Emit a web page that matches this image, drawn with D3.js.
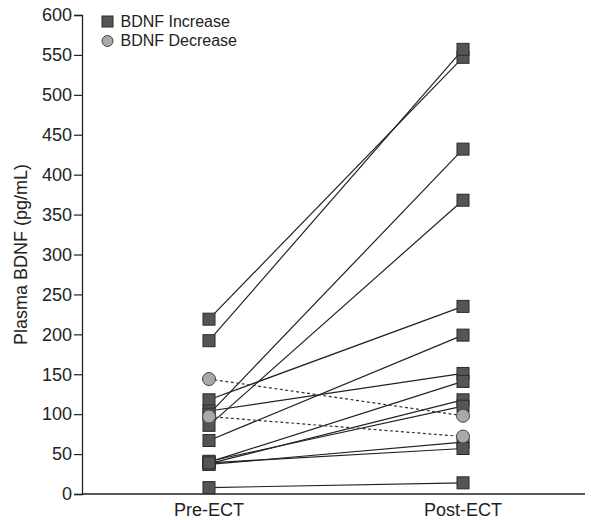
<!DOCTYPE html>
<html>
<head>
<meta charset="utf-8">
<script src="https://cdn.jsdelivr.net/npm/d3@7"></script>
<style>
body { margin: 0; background: #fff; }
text { font-family: "Liberation Sans", Arial, sans-serif; }
</style>
</head>
<body>
<script>
// time points
var phases = ["Pre-ECT", "Post-ECT"];
// subjects whose BDNF went up
var incPre  = [219, 192, 118, 104, 100, 86, 67, 40, 38, 41, 37, 39, 8];
var incPost = [547, 557, 235, 151, 432, 368, 199, 141, 118, 110, 65, 57, 14];
// subjects whose BDNF went down
var decPre  = [144, 97];
var decPost = [98, 72];
var yTicks = d3.range(0, 601, 50);

var width = 591, height = 520;
var margin = { top: 15, right: 6, bottom: 26, left: 82 };

var svg = d3.select("body").append("svg")
  .attr("width", width).attr("height", height);

var x = d3.scalePoint()
  .domain(phases)
  .range([209, 463]);

var y = d3.scaleLinear()
  .domain([0, 600])
  .range([height - margin.bottom, margin.top]);

// y axis
var yAxis = d3.axisLeft(y).tickValues(yTicks).tickSize(8).tickPadding(2);
var gy = svg.append("g")
  .attr("transform", "translate(" + margin.left + ",0)")
  .call(yAxis);
gy.select(".domain").attr("stroke", "#222").attr("stroke-width", 1.3);
gy.selectAll(".tick line").attr("stroke", "#222").attr("stroke-width", 1.2);
gy.selectAll(".tick text")
  .attr("fill", "#222")
  .style("font-size", "18px")
  .style("font-family", "Liberation Sans, Arial, sans-serif");

// x axis baseline
svg.append("line")
  .attr("x1", margin.left).attr("x2", width - margin.right)
  .attr("y1", y(0)).attr("y2", y(0))
  .attr("stroke", "#222").attr("stroke-width", 1.3);

svg.selectAll(".xlab")
  .data(phases)
  .enter().append("text")
  .attr("x", function(d) { return x(d); })
  .attr("y", 516)
  .attr("text-anchor", "middle")
  .attr("fill", "#222")
  .style("font-size", "18px")
  .text(function(d) { return d; });

svg.append("text")
  .attr("transform", "translate(27," + ((y(0) + y(600)) / 2) + ") rotate(-90)")
  .attr("text-anchor", "middle")
  .attr("fill", "#222")
  .style("font-size", "18px")
  .text("Plasma BDNF (pg/mL)");

var inc = incPre.map(function(v, i) { return [v, incPost[i]]; });
var dec = decPre.map(function(v, i) { return [v, decPost[i]]; });

// connecting lines
svg.append("g").selectAll("line")
  .data(inc)
  .enter().append("line")
  .attr("x1", x(phases[0])).attr("x2", x(phases[1]))
  .attr("y1", function(d) { return y(d[0]); })
  .attr("y2", function(d) { return y(d[1]); })
  .attr("stroke", "#222").attr("stroke-width", 1.2);

svg.append("g").selectAll("line")
  .data(dec)
  .enter().append("line")
  .attr("x1", x(phases[0])).attr("x2", x(phases[1]))
  .attr("y1", function(d) { return y(d[0]); })
  .attr("y2", function(d) { return y(d[1]); })
  .attr("stroke", "#333").attr("stroke-width", 1.2)
  .attr("stroke-dasharray", "3,2.5");

// markers
var sq = 12;
var pts = [];
inc.forEach(function(d) {
  pts.push([phases[0], d[0]]);
  pts.push([phases[1], d[1]]);
});
svg.append("g").selectAll("rect")
  .data(pts)
  .enter().append("rect")
  .attr("x", function(d) { return x(d[0]) - sq / 2; })
  .attr("y", function(d) { return y(d[1]) - sq / 2; })
  .attr("width", sq).attr("height", sq)
  .attr("fill", "#54555a").attr("stroke", "#2a2a2a").attr("stroke-width", 1);

var cpts = [];
dec.forEach(function(d) {
  cpts.push([phases[0], d[0]]);
  cpts.push([phases[1], d[1]]);
});
svg.append("g").selectAll("circle")
  .data(cpts)
  .enter().append("circle")
  .attr("cx", function(d) { return x(d[0]); })
  .attr("cy", function(d) { return y(d[1]); })
  .attr("r", 6.5)
  .attr("fill", "#a9a9ab").attr("stroke", "#444").attr("stroke-width", 1);

// legend
var lg = svg.append("g").attr("transform", "translate(107.5,0)");
lg.append("rect")
  .attr("x", -5.5).attr("y", 16).attr("width", 11).attr("height", 11)
  .attr("fill", "#54555a").attr("stroke", "#2a2a2a");
lg.append("circle")
  .attr("cx", 0).attr("cy", 41).attr("r", 5.5)
  .attr("fill", "#a9a9ab").attr("stroke", "#444");
lg.append("text").attr("x", 13).attr("y", 27)
  .attr("fill", "#222").style("font-size", "16px").text("BDNF Increase");
lg.append("text").attr("x", 13).attr("y", 46)
  .attr("fill", "#222").style("font-size", "16px").text("BDNF Decrease");
</script>
</body>
</html>
